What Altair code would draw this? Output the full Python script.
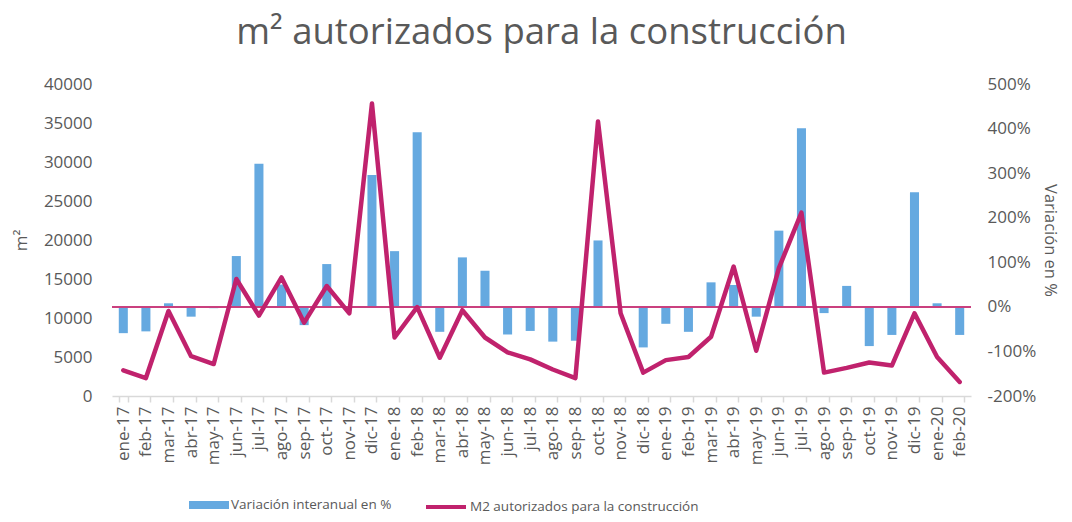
import altair as alt
import pandas as pd

months = ["ene-17", "feb-17", "mar-17", "abr-17", "may-17", "jun-17", "jul-17", "ago-17",
          "sep-17", "oct-17", "nov-17", "dic-17", "ene-18", "feb-18", "mar-18", "abr-18",
          "may-18", "jun-18", "jul-18", "ago-18", "sep-18", "oct-18", "nov-18", "dic-18",
          "ene-19", "feb-19", "mar-19", "abr-19", "may-19", "jun-19", "jul-19", "ago-19",
          "sep-19", "oct-19", "nov-19", "dic-19", "ene-20", "feb-20"]

m2_autorizados = [3300, 2300, 10900, 5100, 4100, 15000, 10300, 15200,
                  9400, 14100, 10600, 37500, 7500, 11400, 4900, 11000,
                  7500, 5600, 4700, 3400, 2300, 35200, 10600, 3000,
                  4600, 5000, 7600, 16600, 5800, 16400, 23500, 3000,
                  3600, 4300, 3900, 10600, 5000, 1800]

variacion_pct = [-59, -55, 8, -22, -3, 114, 321, 50,
                 -41, 96, -2, 296, 125, 392, -56, 111,
                 81, -62, -54, -78, -76, 149, 0, -91,
                 -38, -56, 55, 49, -22, 171, 401, -14,
                 47, -88, -63, 257, 8, -63]

bar_label = "Variación interanual en %"
line_label = "M2 autorizados para la construcción"

df = pd.DataFrame({
    "mes": months,
    "m2": m2_autorizados,
    "pct": variacion_pct,
    "bar_lbl": [bar_label] * len(months),
    "line_lbl": [line_label] * len(months),
})

FONT = "Open Sans"
GRAY = "#595959"
BLUE = "#65a9e0"
MAGENTA = "#c0226d"

x_enc = alt.X(
    "mes:N", sort=months,
    scale=alt.Scale(paddingInner=0.6, paddingOuter=0.3),
    axis=alt.Axis(title=None, labelAngle=-90, tickBand="extent", labelFontSize=17,
                  tickColor="#d9d9d9", domainColor="#d9d9d9", tickSize=6,
                  labelPadding=4, tickWidth=1.5, domainWidth=1.5),
)

bars = alt.Chart(df).mark_bar().encode(
    x=x_enc,
    y=alt.Y("pct:Q", scale=alt.Scale(domain=[-200, 500], nice=False),
            axis=alt.Axis(orient="right", values=list(range(-200, 501, 100)),
                          labelExpr="datum.value + '%'", title="Variación en %",
                          grid=False, ticks=False, domain=False, labelPadding=16,
                          labelAlign="left", titleFontSize=16.5, titlePadding=6)),
    fill=alt.Fill("bar_lbl:N", scale=alt.Scale(range=[BLUE]),
                  legend=alt.Legend(title=None, orient="none", legendX=77, legendY=401,
                                    symbolType="M-1,-0.2H1V0.2H-1Z", symbolSize=1600,
                                    symbolStrokeWidth=0, labelFontSize=13.5, labelOffset=2,
                                    labelLimit=0, labelFont=FONT, labelColor=GRAY)),
)

rule = alt.Chart(df).mark_rule(color="#c9407f", strokeWidth=1.2).encode(
    y=alt.Y(datum=0)
)

line = alt.Chart(df).mark_line(color=MAGENTA, strokeWidth=4.5, strokeCap="round",
                               strokeJoin="round").encode(
    x=x_enc,
    y=alt.Y("m2:Q", scale=alt.Scale(domain=[0, 40000], nice=False),
            axis=alt.Axis(orient="left", values=list(range(0, 40001, 5000)), format="d",
                          title="m²", grid=False, ticks=False, domain=False,
                          labelPadding=20, titleFontSize=17, titlePadding=13)),
    stroke=alt.Stroke("line_lbl:N", scale=alt.Scale(range=[MAGENTA]),
                      legend=alt.Legend(title=None, orient="none", legendX=312, legendY=401,
                                        symbolType="stroke", symbolSize=1600,
                                        symbolStrokeWidth=4, labelFontSize=13.5, labelOffset=2,
                                        labelLimit=0, labelFont=FONT, labelColor=GRAY)),
)

chart = alt.layer(alt.layer(bars, rule), line).resolve_scale(
    y="independent", fill="independent", stroke="independent"
).properties(
    width=859, height=312,
    title=alt.TitleParams("m² autorizados para la construcción", fontSize=36.5,
                          font=FONT, color=GRAY, fontWeight="normal", anchor="middle",
                          offset=24),
    autosize=alt.AutoSizeParams(type="none"),
    padding={"left": 104, "top": 76, "right": 93, "bottom": 118},
).configure_view(stroke=None).configure_axis(
    labelFont=FONT, titleFont=FONT, labelColor=GRAY, titleColor=GRAY,
    labelFontSize=17, titleFontWeight="normal"
)

chart.save("out.html", embed_options={"renderer": "svg", "actions": False})
